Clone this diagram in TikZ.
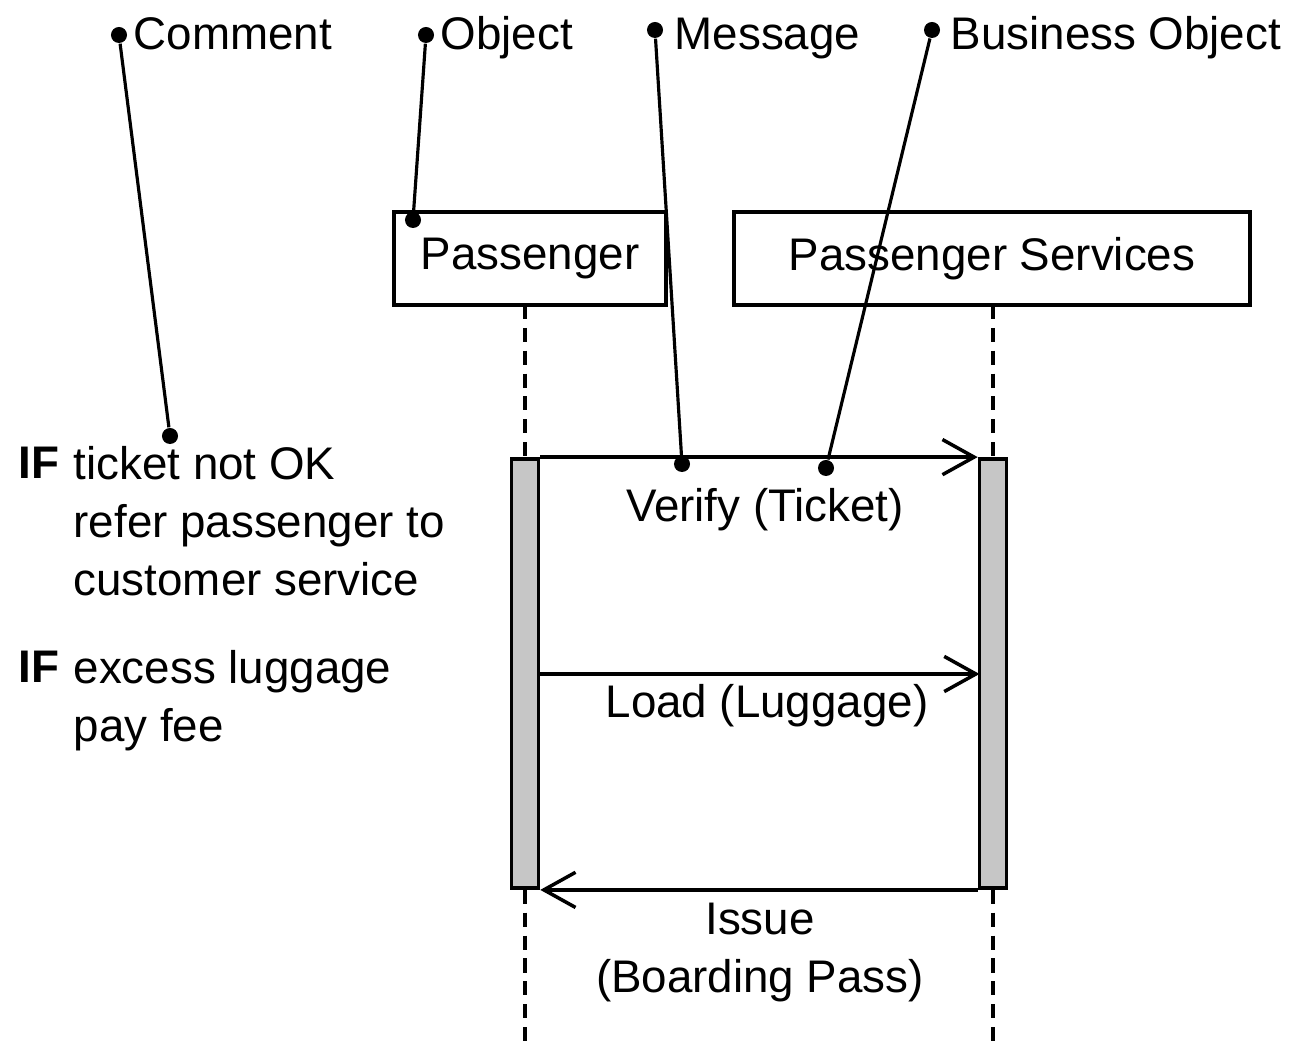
\documentclass[tikz,border=0pt]{standalone}
\usepackage{fontspec}
\setmainfont{Liberation Sans}
\usetikzlibrary{arrows.meta}

\tikzset{
  txt/.style={font=\fontsize{13}{16.5}\selectfont, inner sep=0pt},
  pin/.style={circle, fill=black, inner sep=0pt, minimum size=0.16cm},
  objbox/.style={draw, line width=1.1pt, txt, minimum height=0.93cm},
  actbar/.style={draw, line width=1pt, fill=gray!45, inner sep=0pt,
    minimum width=0.27cm, minimum height=4.29cm},
  life/.style={line width=0.9pt, dash pattern=on 4pt off 2.5pt},
  msg/.style={line width=1pt, -{Straight Barb[length=9pt,width=10pt,line width=1pt]}},
  callout/.style={line width=0.9pt}
}

\begin{document}
\begin{tikzpicture}[x=0.01cm, y=-0.01cm]
\useasboundingbox (0,0) rectangle (1296,1046);

% objects
\node[objbox, minimum width=2.72cm] (pass) at (530,258.5) {Passenger};
\node[objbox, minimum width=5.16cm] (serv) at (992,258.5) {Passenger Services};

% activation bars
\node[actbar] (pbar) at (525,673.5) {};
\node[actbar] (sbar) at (993,673.5) {};

% lifelines
\coordinate (ptop) at (525,305);
\coordinate (stop) at (993,305);
\coordinate (pend) at (525,1046);
\coordinate (send) at (993,1046);
\draw[life] (ptop) -- (pbar.north);
\draw[life] (stop) -- (sbar.north);
\draw[life] (pbar.south) -- (pend);
\draw[life] (sbar.south) -- (send);

% messages
\coordinate (lda) at (538.5,674);
\coordinate (ldb) at (979.5,674);
\draw[msg] (pbar.north east) -- (sbar.north west);
\draw[msg] (lda) -- (ldb);
\draw[msg] (sbar.south west) -- (pbar.south east);

\node[txt, anchor=base] (verify) at (765,522) {Verify (Ticket)};
\node[txt, anchor=base] (load) at (767,718) {Load (Luggage)};
\node[txt, anchor=north, align=center] (issue) at (760,902) {Issue\\(Boarding Pass)};

% comment
\node[txt, anchor=north west] (if1) at (18,446) {\bfseries IF};
\node[txt, anchor=north west, align=left] (cmt1) at (73,446)
  {ticket not OK\\refer passenger to\\customer service};
\node[txt, anchor=north west] (if2) at (18,650) {\bfseries IF};
\node[txt, anchor=north west, align=left] (cmt2) at (73,650)
  {excess luggage\\pay fee};

% legend pins
\foreach \name/\x/\y/\tx/\ex/\ey/\lab in {
  com/119/35/133/170/436/Comment,
  obj/426/35/440/413/220/Object,
  mes/655/30/674/682/464/Message,
  bus/932/30/950/826/468/Business Object}
{
  \node[pin] (\name a) at (\x,\y) {};
  \node[pin] (\name b) at (\ex,\ey) {};
  \node[txt, anchor=base west] (\name t) at (\tx,50) {\lab};
  \draw[callout] (\name a) -- (\name b);
}
\end{tikzpicture}
\end{document}
